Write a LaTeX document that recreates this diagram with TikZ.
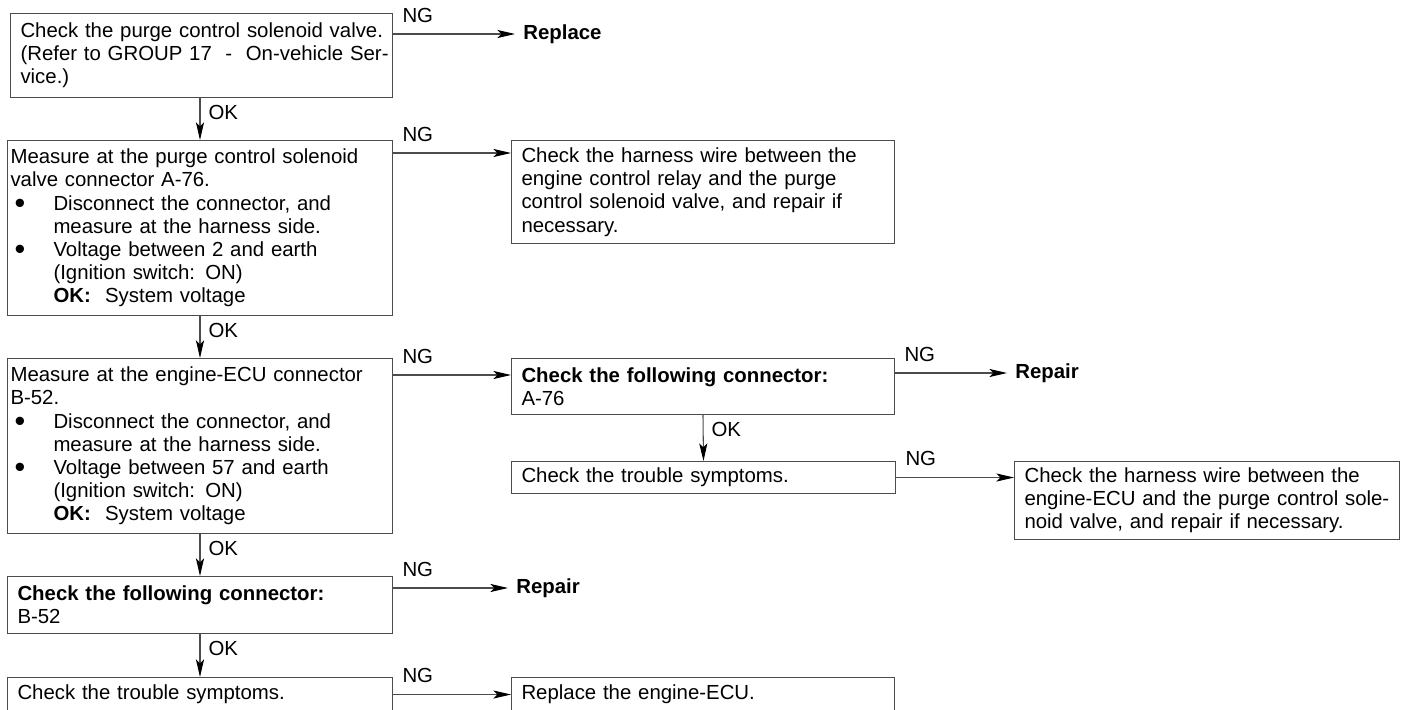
\documentclass[tikz,border=0pt]{standalone}
\usepackage{fontspec}
\usepackage{graphicx}
\setmainfont{Liberation Sans}
\usetikzlibrary{arrows.meta}

\newcommand{\boxfont}{\fontsize{11.6pt}{13.2pt}\selectfont\spaceskip=0.52em plus 0.3em minus 0.25em\relax}
\newcommand{\jl}[2][\hsize]{\makebox[#1][s]{#2}}
\newcommand{\bul}{\hspace*{0.08cm}\makebox[0.78cm][l]{\raisebox{-0.16em}{\scalebox{1.5}{\textbullet}}}}
\newcommand{\ind}{\hspace*{0.86cm}}

\begin{document}
\begin{tikzpicture}[x=0.02cm,y=-0.02cm,font=\boxfont,
        stepbox/.style={draw=black!70,line width=0.6pt,anchor=north west,align=left,inner xsep=0.2cm,inner ysep=0pt,text width=7.26cm},
        act/.style={anchor=west,inner xsep=0.16cm,font=\boxfont\bfseries},
        flow/.style={draw=black!70,line width=0.6pt,-{Stealth[length=10pt,width=4.6pt,inset=2.2pt,color=black]}},
        ng/.style={anchor=base west,inner sep=0pt,xshift=0.18cm,yshift=0.24cm},
        ok/.style={anchor=base west,inner sep=0pt,xshift=0.16cm,yshift=-0.42cm}]
        \useasboundingbox (0,0) rectangle (1407,710);
        \clip (0,0) rectangle (1407,710);
        \node(A)[stepbox,text width=7.24cm,minimum height=1.68cm] at (10,13)
            {\jl[7.24cm]{Check the purge control solenoid valve.}\\
             \jl[7.24cm]{(Refer to GROUP 17 \ - \ On-vehicle Ser-}\\
             vice.)};
        \node(B)[act] at (515,34) {Replace};
        \node(C)[stepbox,inner xsep=0.06cm,text width=7.58cm,minimum height=3.5cm] at (7,140)
            {Measure at the purge control solenoid\\
             valve connector A-76.\\
             \bul Disconnect the connector, and\\
             \ind measure at the harness side.\\
             \bul Voltage between 2 and earth\\
             \ind (Ignition switch: ON)\\
             \ind\textbf{OK:}\hspace{0.7em}System voltage};
        \node(D)[stepbox,minimum height=2.06cm] at (511,140)
            {Check the harness wire between the\\
             engine control relay and the purge\\
             control solenoid valve, and repair if\\
             necessary.};
        \node(E)[stepbox,inner xsep=0.06cm,text width=7.58cm,minimum height=3.5cm] at (7,358)
            {Measure at the engine-ECU connector\\
             B-52.\\
             \bul Disconnect the connector, and\\
             \ind measure at the harness side.\\
             \bul Voltage between 57 and earth\\
             \ind (Ignition switch: ON)\\
             \ind\textbf{OK:}\hspace{0.7em}System voltage};
        \node(F)[stepbox,minimum height=1.12cm] at (511,358)
            {\textbf{Check the following connector:}\\A-76};
        \node(G)[act] at (1007,373) {Repair};
        \node(H)[stepbox,text width=7.28cm,minimum height=0.64cm] at (511,461)
            {Check the trouble symptoms.};
        \node(I)[stepbox,text width=7.3cm,minimum height=1.56cm] at (1014,461)
            {\jl[7.26cm]{Check the harness wire between the}\\
             \jl[7.26cm]{engine-ECU and the purge control sole-}\\
             noid valve, and repair if necessary.};
        \node(J)[stepbox,text width=7.3cm,minimum height=1.14cm] at (7,576)
            {\textbf{Check the following connector:}\\B-52};
        \node(K)[act] at (508,588) {Repair};
        \node(L)[stepbox,text width=7.3cm,minimum height=0.68cm] at (7,677)
            {Check the trouble symptoms.};
        \node(M)[stepbox,minimum height=0.68cm] at (511,677)
            {Replace the engine-ECU.};
        \draw[flow](A.east |- B.west) -- node[ng,pos=0]{NG} (B.west);
        \draw[flow](A.south -| C.north) -- node[ok,pos=0]{OK} (C.north);
        \draw[flow](C.east |- 0,153) -- node[ng,pos=0]{NG} (D.west |- 0,153);
        \draw[flow](C.south) -- node[ok,pos=0]{OK} (E.north);
        \draw[flow](E.east |- 0,375) -- node[ng,pos=0]{NG} (F.west |- 0,375);
        \draw[flow](F.east |- G.west) -- node[ng,pos=0]{NG} (G.west);
        \draw[flow](F.south) -- node[ok,pos=0]{OK} (H.north);
        \draw[flow](H.east) -- node[ng,pos=0]{NG} (I.west |- H.east);
        \draw[flow](E.south) -- node[ok,pos=0]{OK} (J.north);
        \draw[flow](J.east |- K.west) -- node[ng,pos=0]{NG} (K.west);
        \draw[flow](J.south) -- node[ok,pos=0]{OK} (L.north);
        \draw[flow](L.east) -- node[ng,pos=0]{NG} (M.west);
\end{tikzpicture}
\end{document}
